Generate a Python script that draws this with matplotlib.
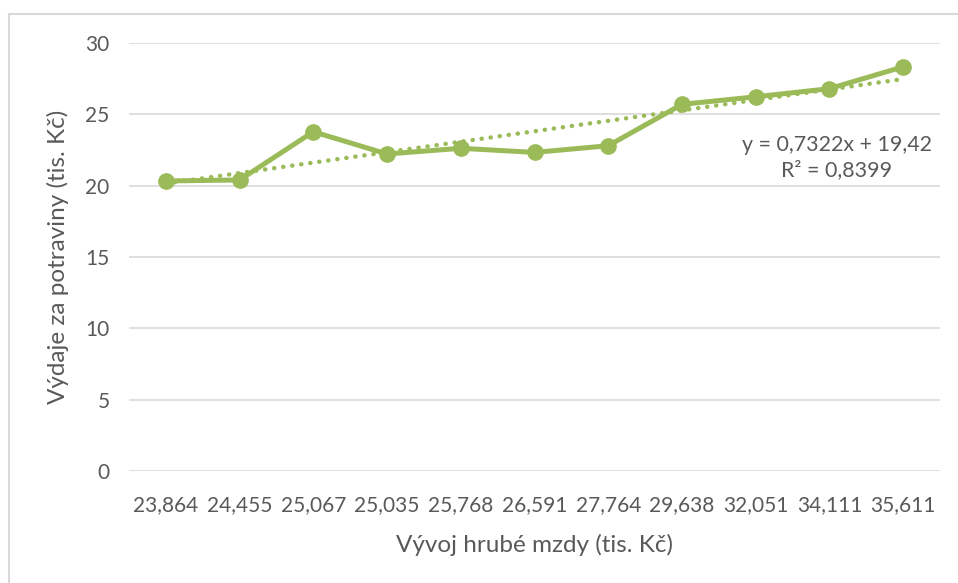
import matplotlib
matplotlib.use("Agg")
import matplotlib.pyplot as plt
from matplotlib.lines import Line2D
import numpy as np

# data
wages = ["23,864", "24,455", "25,067", "25,035", "25,768", "26,591",
         "27,764", "29,638", "32,051", "34,111", "35,611"]
food = [20.33, 20.40, 23.78, 22.22, 22.62, 22.33, 22.80, 25.70, 26.23, 26.80, 28.33]
trend_slope = 0.7322
trend_intercept = 19.42
r_squared = 0.8399

GREEN = "#9BBB59"
TEXT = "#595959"
GRID = "#D9D9D9"

plt.rcParams["font.family"] = ["Lato", "DejaVu Sans"]

W, H = 958, 583
fig = plt.figure(figsize=(W / 100, H / 100), dpi=100, facecolor="white")
ax = fig.add_axes([129 / W, 1 - 471 / H, (940 - 129) / W, (471 - 43) / H])

x = np.arange(1, len(food) + 1)

# lineární trend
trend = trend_slope * x + trend_intercept
ax.plot(x, trend, color=GREEN, linewidth=3.2, linestyle=(0, (0.05, 2.0)),
        dash_capstyle="round", zorder=2)

ax.plot(x, food, color=GREEN, linewidth=3.6, marker="o", markersize=11,
        markerfacecolor=GREEN, markeredgecolor=GREEN, zorder=3)

ax.set_xlim(0.5, len(food) + 0.5)
ax.set_ylim(0, 30)
ax.set_yticks(range(0, 31, 5))
ax.set_xticks(x)
ax.set_xticklabels(wages)

ax.grid(axis="y", color=GRID, linewidth=1.2)
ax.set_axisbelow(True)
for s in ax.spines.values():
    s.set_visible(False)
ax.tick_params(axis="y", length=0, colors=TEXT, labelsize=15, pad=14)
ax.tick_params(axis="x", length=0, colors=TEXT, labelsize=15, pad=17)

ax.set_xlabel("Vývoj hrubé mzdy (tis. Kč)", color=TEXT, fontsize=17.5, labelpad=14)
ax.set_ylabel("Výdaje za potraviny (tis. Kč)", color=TEXT, fontsize=17.5, labelpad=12)

eq = f"y = {trend_slope}x + {trend_intercept}\nR² = {r_squared}".replace(".", ",")
ax.text(10.1, 21.97, eq, color=TEXT, fontsize=15.4, ha="center", va="center",
        multialignment="center", linespacing=1.3)

# rámeček grafu
fig.add_artist(Line2D([9 / W, 1], [1 - 14 / H, 1 - 14 / H], color=GRID, linewidth=1.5))
fig.add_artist(Line2D([9 / W, 9 / W], [0, 1 - 14 / H], color=GRID, linewidth=1.5))

fig.savefig("out.png", dpi=100, facecolor="white")
